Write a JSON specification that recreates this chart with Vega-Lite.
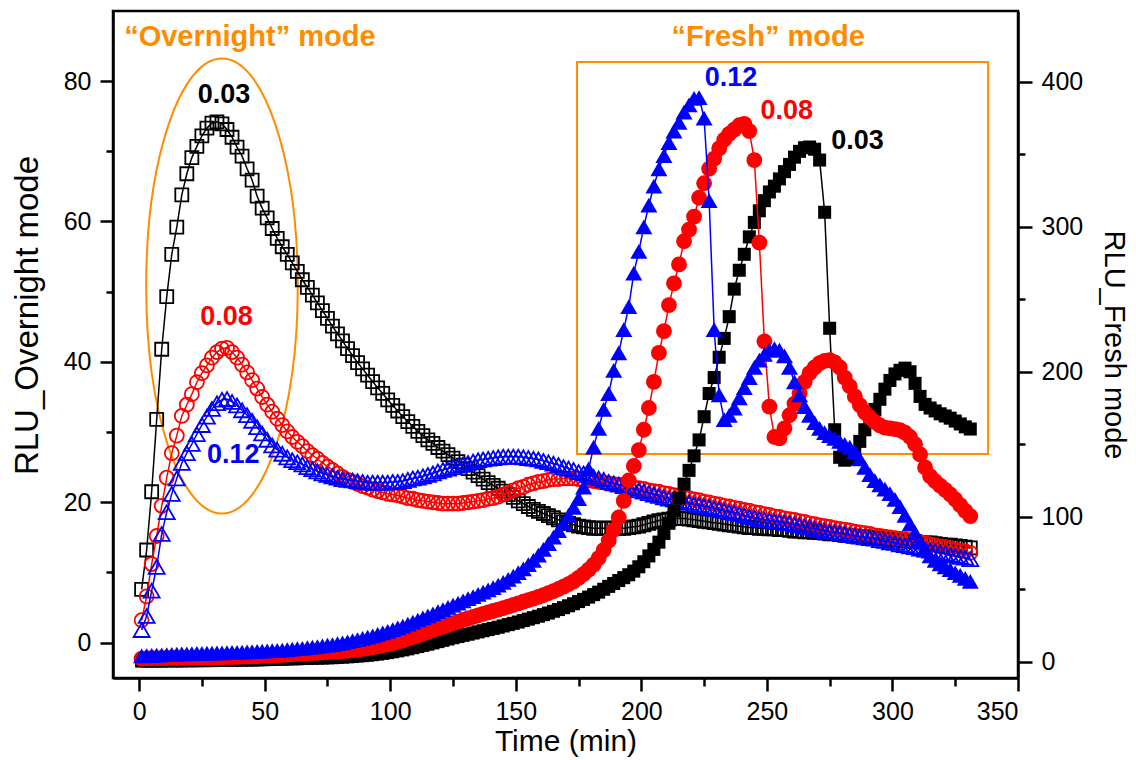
{
"$schema":"https://vega.github.io/schema/vega-lite/v6.json",
"width":905,"height":667,
"autosize":{"type":"none"},
"padding":{"left":113,"top":11,"right":118,"bottom":82},
"background":"white",
"config":{"view":{"stroke":"black","strokeWidth":2.5},"font":"Liberation Sans",
 "axis":{"grid":false,"domainColor":"black","domainWidth":2.5,"tickColor":"black","tickWidth":2.5,"labelColor":"black","titleColor":"black","labelFont":"Liberation Sans","titleFont":"Liberation Sans","labelFontSize":25,"titleFontSize":31,"titleFontWeight":"normal","labelPadding":9}},
"datasets":{
"o1":[{"t":1,"y":7.6},{"t":3,"y":13.2},{"t":5,"y":21.5},{"t":7,"y":31.8},{"t":9,"y":41.8},{"t":11,"y":49.3},{"t":13,"y":55.3},{"t":15,"y":59.2},{"t":17,"y":63.8},{"t":19,"y":66.8},{"t":21,"y":69.1},{"t":23,"y":70.7},{"t":25,"y":72.2},{"t":27,"y":73.3},{"t":29,"y":74.0},{"t":31,"y":74.2},{"t":33,"y":73.9},{"t":35,"y":73.1},{"t":37,"y":72.0},{"t":39,"y":70.6},{"t":41,"y":69.3},{"t":43,"y":67.5},{"t":45,"y":65.9},{"t":47,"y":63.6},{"t":49,"y":61.9},{"t":51,"y":60.5},{"t":53,"y":59.0},{"t":55,"y":57.6},{"t":57,"y":56.4},{"t":59,"y":55.3},{"t":61,"y":54.1},{"t":63,"y":52.9},{"t":65,"y":51.7},{"t":67,"y":50.6},{"t":69,"y":49.5},{"t":71,"y":48.4},{"t":73,"y":47.3},{"t":75,"y":46.2},{"t":77,"y":45.1},{"t":79,"y":44.0},{"t":81,"y":43.0},{"t":83,"y":41.9},{"t":85,"y":40.9},{"t":87,"y":39.9},{"t":89,"y":39.0},{"t":91,"y":38.1},{"t":93,"y":37.2},{"t":95,"y":36.3},{"t":97,"y":35.5},{"t":99,"y":34.6},{"t":101,"y":33.8},{"t":103,"y":33.0},{"t":105,"y":32.2},{"t":107,"y":31.5},{"t":109,"y":30.8},{"t":111,"y":30.1},{"t":113,"y":29.5},{"t":115,"y":28.9},{"t":117,"y":28.4},{"t":119,"y":27.8},{"t":121,"y":27.3},{"t":123,"y":26.8},{"t":125,"y":26.3},{"t":127,"y":25.8},{"t":129,"y":25.3},{"t":131,"y":24.8},{"t":133,"y":24.3},{"t":135,"y":23.8},{"t":137,"y":23.3},{"t":139,"y":22.8},{"t":141,"y":22.4},{"t":143,"y":22.0},{"t":145,"y":21.6},{"t":147,"y":21.1},{"t":149,"y":20.7},{"t":151,"y":20.2},{"t":153,"y":19.8},{"t":155,"y":19.4},{"t":157,"y":19.0},{"t":159,"y":18.7},{"t":161,"y":18.4},{"t":163,"y":18.1},{"t":165,"y":17.8},{"t":167,"y":17.5},{"t":169,"y":17.2},{"t":171,"y":17.0},{"t":173,"y":16.8},{"t":175,"y":16.6},{"t":177,"y":16.5},{"t":179,"y":16.4},{"t":181,"y":16.3},{"t":183,"y":16.3},{"t":185,"y":16.3},{"t":187,"y":16.3},{"t":189,"y":16.3},{"t":191,"y":16.3},{"t":193,"y":16.3},{"t":195,"y":16.4},{"t":197,"y":16.5},{"t":199,"y":16.6},{"t":201,"y":16.8},{"t":203,"y":17.0},{"t":205,"y":17.2},{"t":207,"y":17.4},{"t":209,"y":17.5},{"t":211,"y":17.6},{"t":213,"y":17.7},{"t":215,"y":17.7},{"t":217,"y":17.7},{"t":219,"y":17.6},{"t":221,"y":17.5},{"t":223,"y":17.4},{"t":225,"y":17.3},{"t":227,"y":17.2},{"t":229,"y":17.1},{"t":231,"y":17.0},{"t":233,"y":16.9},{"t":235,"y":16.8},{"t":237,"y":16.7},{"t":239,"y":16.6},{"t":241,"y":16.5},{"t":243,"y":16.4},{"t":245,"y":16.4},{"t":247,"y":16.3},{"t":249,"y":16.3},{"t":251,"y":16.2},{"t":253,"y":16.2},{"t":255,"y":16.1},{"t":257,"y":16.1},{"t":259,"y":16.0},{"t":261,"y":15.9},{"t":263,"y":15.9},{"t":265,"y":15.8},{"t":267,"y":15.8},{"t":269,"y":15.7},{"t":271,"y":15.7},{"t":273,"y":15.6},{"t":275,"y":15.5},{"t":277,"y":15.5},{"t":279,"y":15.4},{"t":281,"y":15.3},{"t":283,"y":15.3},{"t":285,"y":15.2},{"t":287,"y":15.1},{"t":289,"y":15.1},{"t":291,"y":15.0},{"t":293,"y":14.9},{"t":295,"y":14.9},{"t":297,"y":14.8},{"t":299,"y":14.7},{"t":301,"y":14.7},{"t":303,"y":14.6},{"t":305,"y":14.5},{"t":307,"y":14.5},{"t":309,"y":14.4},{"t":311,"y":14.3},{"t":313,"y":14.2},{"t":315,"y":14.2},{"t":317,"y":14.1},{"t":319,"y":14.0},{"t":321,"y":13.9},{"t":323,"y":13.9},{"t":325,"y":13.8},{"t":327,"y":13.7},{"t":329,"y":13.6},{"t":331,"y":13.5}],
"o2":[{"t":1,"y":3.2},{"t":3,"y":6.6},{"t":5,"y":11.2},{"t":7,"y":15.2},{"t":9,"y":19.5},{"t":11,"y":23.5},{"t":13,"y":27.0},{"t":15,"y":29.5},{"t":17,"y":32.3},{"t":19,"y":33.9},{"t":21,"y":35.4},{"t":23,"y":37.1},{"t":25,"y":38.4},{"t":27,"y":39.5},{"t":29,"y":40.6},{"t":31,"y":41.4},{"t":33,"y":41.9},{"t":35,"y":42.0},{"t":37,"y":41.4},{"t":39,"y":40.6},{"t":41,"y":39.6},{"t":43,"y":38.5},{"t":45,"y":37.4},{"t":47,"y":36.2},{"t":49,"y":35.0},{"t":51,"y":33.9},{"t":53,"y":32.9},{"t":55,"y":31.9},{"t":57,"y":31.0},{"t":59,"y":30.1},{"t":61,"y":29.3},{"t":63,"y":28.6},{"t":65,"y":28.0},{"t":67,"y":27.3},{"t":69,"y":26.7},{"t":71,"y":26.2},{"t":73,"y":25.6},{"t":75,"y":25.1},{"t":77,"y":24.6},{"t":79,"y":24.1},{"t":81,"y":23.6},{"t":83,"y":23.2},{"t":85,"y":22.9},{"t":87,"y":22.6},{"t":89,"y":22.3},{"t":91,"y":22.1},{"t":93,"y":21.8},{"t":95,"y":21.6},{"t":97,"y":21.4},{"t":99,"y":21.2},{"t":101,"y":21.1},{"t":103,"y":21.0},{"t":105,"y":20.8},{"t":107,"y":20.6},{"t":109,"y":20.5},{"t":111,"y":20.3},{"t":113,"y":20.2},{"t":115,"y":20.1},{"t":117,"y":20.0},{"t":119,"y":19.9},{"t":121,"y":19.8},{"t":123,"y":19.8},{"t":125,"y":19.8},{"t":127,"y":19.8},{"t":129,"y":19.9},{"t":131,"y":20.0},{"t":133,"y":20.1},{"t":135,"y":20.2},{"t":137,"y":20.3},{"t":139,"y":20.5},{"t":141,"y":20.6},{"t":143,"y":20.8},{"t":145,"y":21.1},{"t":147,"y":21.4},{"t":149,"y":21.7},{"t":151,"y":22.0},{"t":153,"y":22.2},{"t":155,"y":22.5},{"t":157,"y":22.7},{"t":159,"y":22.9},{"t":161,"y":23.0},{"t":163,"y":23.2},{"t":165,"y":23.3},{"t":167,"y":23.3},{"t":169,"y":23.4},{"t":171,"y":23.4},{"t":173,"y":23.4},{"t":175,"y":23.3},{"t":177,"y":23.2},{"t":179,"y":23.1},{"t":181,"y":23.0},{"t":183,"y":22.9},{"t":185,"y":22.8},{"t":187,"y":22.7},{"t":189,"y":22.6},{"t":191,"y":22.5},{"t":193,"y":22.4},{"t":195,"y":22.3},{"t":197,"y":22.1},{"t":199,"y":22.0},{"t":201,"y":21.9},{"t":203,"y":21.7},{"t":205,"y":21.6},{"t":207,"y":21.5},{"t":209,"y":21.3},{"t":211,"y":21.2},{"t":213,"y":21.0},{"t":215,"y":20.9},{"t":217,"y":20.7},{"t":219,"y":20.6},{"t":221,"y":20.4},{"t":223,"y":20.3},{"t":225,"y":20.1},{"t":227,"y":20.0},{"t":229,"y":19.8},{"t":231,"y":19.7},{"t":233,"y":19.5},{"t":235,"y":19.4},{"t":237,"y":19.2},{"t":239,"y":19.1},{"t":241,"y":18.9},{"t":243,"y":18.8},{"t":245,"y":18.6},{"t":247,"y":18.5},{"t":249,"y":18.3},{"t":251,"y":18.2},{"t":253,"y":18.0},{"t":255,"y":17.9},{"t":257,"y":17.7},{"t":259,"y":17.6},{"t":261,"y":17.5},{"t":263,"y":17.3},{"t":265,"y":17.2},{"t":267,"y":17.0},{"t":269,"y":16.9},{"t":271,"y":16.7},{"t":273,"y":16.6},{"t":275,"y":16.5},{"t":277,"y":16.3},{"t":279,"y":16.2},{"t":281,"y":16.1},{"t":283,"y":16.0},{"t":285,"y":15.8},{"t":287,"y":15.7},{"t":289,"y":15.6},{"t":291,"y":15.5},{"t":293,"y":15.3},{"t":295,"y":15.2},{"t":297,"y":15.1},{"t":299,"y":15.0},{"t":301,"y":14.9},{"t":303,"y":14.8},{"t":305,"y":14.7},{"t":307,"y":14.6},{"t":309,"y":14.4},{"t":311,"y":14.3},{"t":313,"y":14.2},{"t":315,"y":14.0},{"t":317,"y":13.9},{"t":319,"y":13.7},{"t":321,"y":13.6},{"t":323,"y":13.4},{"t":325,"y":13.3},{"t":327,"y":13.1},{"t":329,"y":13.0},{"t":331,"y":12.8}],
"o3":[{"t":1,"y":1.8},{"t":3,"y":3.8},{"t":5,"y":7.4},{"t":7,"y":10.8},{"t":9,"y":15.5},{"t":11,"y":18.6},{"t":13,"y":21.2},{"t":15,"y":23.4},{"t":17,"y":25.6},{"t":19,"y":27.0},{"t":21,"y":28.3},{"t":23,"y":29.7},{"t":25,"y":31.0},{"t":27,"y":32.2},{"t":29,"y":33.3},{"t":31,"y":34.1},{"t":33,"y":34.6},{"t":35,"y":34.7},{"t":37,"y":34.3},{"t":39,"y":33.8},{"t":41,"y":33.1},{"t":43,"y":32.4},{"t":45,"y":31.6},{"t":47,"y":30.7},{"t":49,"y":29.8},{"t":51,"y":28.9},{"t":53,"y":28.1},{"t":55,"y":27.5},{"t":57,"y":26.9},{"t":59,"y":26.4},{"t":61,"y":26.0},{"t":63,"y":25.7},{"t":65,"y":25.4},{"t":67,"y":25.0},{"t":69,"y":24.7},{"t":71,"y":24.4},{"t":73,"y":24.1},{"t":75,"y":23.9},{"t":77,"y":23.7},{"t":79,"y":23.5},{"t":81,"y":23.3},{"t":83,"y":23.2},{"t":85,"y":23.1},{"t":87,"y":23.0},{"t":89,"y":22.9},{"t":91,"y":22.8},{"t":93,"y":22.8},{"t":95,"y":22.8},{"t":97,"y":22.8},{"t":99,"y":22.8},{"t":101,"y":22.9},{"t":103,"y":22.9},{"t":105,"y":23.0},{"t":107,"y":23.2},{"t":109,"y":23.4},{"t":111,"y":23.5},{"t":113,"y":23.7},{"t":115,"y":23.9},{"t":117,"y":24.1},{"t":119,"y":24.4},{"t":121,"y":24.6},{"t":123,"y":24.8},{"t":125,"y":25.0},{"t":127,"y":25.2},{"t":129,"y":25.4},{"t":131,"y":25.6},{"t":133,"y":25.8},{"t":135,"y":26.0},{"t":137,"y":26.1},{"t":139,"y":26.2},{"t":141,"y":26.3},{"t":143,"y":26.4},{"t":145,"y":26.5},{"t":147,"y":26.5},{"t":149,"y":26.5},{"t":151,"y":26.5},{"t":153,"y":26.4},{"t":155,"y":26.3},{"t":157,"y":26.2},{"t":159,"y":26.1},{"t":161,"y":25.9},{"t":163,"y":25.7},{"t":165,"y":25.5},{"t":167,"y":25.3},{"t":169,"y":25.0},{"t":171,"y":24.8},{"t":173,"y":24.6},{"t":175,"y":24.3},{"t":177,"y":24.1},{"t":179,"y":23.9},{"t":181,"y":23.6},{"t":183,"y":23.4},{"t":185,"y":23.2},{"t":187,"y":22.9},{"t":189,"y":22.7},{"t":191,"y":22.5},{"t":193,"y":22.3},{"t":195,"y":22.1},{"t":197,"y":21.9},{"t":199,"y":21.7},{"t":201,"y":21.5},{"t":203,"y":21.3},{"t":205,"y":21.1},{"t":207,"y":20.9},{"t":209,"y":20.7},{"t":211,"y":20.5},{"t":213,"y":20.4},{"t":215,"y":20.2},{"t":217,"y":20.0},{"t":219,"y":19.9},{"t":221,"y":19.7},{"t":223,"y":19.6},{"t":225,"y":19.4},{"t":227,"y":19.3},{"t":229,"y":19.1},{"t":231,"y":19.0},{"t":233,"y":18.8},{"t":235,"y":18.6},{"t":237,"y":18.5},{"t":239,"y":18.3},{"t":241,"y":18.1},{"t":243,"y":17.9},{"t":245,"y":17.8},{"t":247,"y":17.6},{"t":249,"y":17.5},{"t":251,"y":17.4},{"t":253,"y":17.3},{"t":255,"y":17.2},{"t":257,"y":17.1},{"t":259,"y":17.0},{"t":261,"y":16.8},{"t":263,"y":16.7},{"t":265,"y":16.5},{"t":267,"y":16.4},{"t":269,"y":16.2},{"t":271,"y":16.1},{"t":273,"y":15.9},{"t":275,"y":15.8},{"t":277,"y":15.7},{"t":279,"y":15.6},{"t":281,"y":15.5},{"t":283,"y":15.3},{"t":285,"y":15.2},{"t":287,"y":15.1},{"t":289,"y":15.0},{"t":291,"y":14.9},{"t":293,"y":14.8},{"t":295,"y":14.6},{"t":297,"y":14.5},{"t":299,"y":14.3},{"t":301,"y":14.2},{"t":303,"y":14.0},{"t":305,"y":13.9},{"t":307,"y":13.7},{"t":309,"y":13.6},{"t":311,"y":13.4},{"t":313,"y":13.3},{"t":315,"y":13.1},{"t":317,"y":13.0},{"t":319,"y":12.8},{"t":321,"y":12.7},{"t":323,"y":12.5},{"t":325,"y":12.4},{"t":327,"y":12.2},{"t":329,"y":12.1},{"t":331,"y":11.9}],
"f1":[{"t":1,"y":0.5},{"t":3,"y":0.5},{"t":5,"y":0.5},{"t":7,"y":0.5},{"t":9,"y":0.5},{"t":11,"y":0.6},{"t":13,"y":0.6},{"t":15,"y":0.6},{"t":17,"y":0.6},{"t":19,"y":0.7},{"t":21,"y":0.7},{"t":23,"y":0.7},{"t":25,"y":0.8},{"t":27,"y":0.8},{"t":29,"y":0.8},{"t":31,"y":0.9},{"t":33,"y":0.9},{"t":35,"y":1.0},{"t":37,"y":1.0},{"t":39,"y":1.1},{"t":41,"y":1.1},{"t":43,"y":1.2},{"t":45,"y":1.2},{"t":47,"y":1.3},{"t":49,"y":1.4},{"t":51,"y":1.5},{"t":53,"y":1.6},{"t":55,"y":1.7},{"t":57,"y":1.8},{"t":59,"y":1.9},{"t":61,"y":2.0},{"t":63,"y":2.1},{"t":65,"y":2.2},{"t":67,"y":2.3},{"t":69,"y":2.4},{"t":71,"y":2.5},{"t":73,"y":2.6},{"t":75,"y":2.7},{"t":77,"y":2.8},{"t":79,"y":3.0},{"t":81,"y":3.2},{"t":83,"y":3.4},{"t":85,"y":3.6},{"t":87,"y":3.9},{"t":89,"y":4.2},{"t":91,"y":4.5},{"t":93,"y":4.9},{"t":95,"y":5.3},{"t":97,"y":5.8},{"t":99,"y":6.3},{"t":101,"y":6.9},{"t":103,"y":7.5},{"t":105,"y":8.2},{"t":107,"y":8.9},{"t":109,"y":9.7},{"t":111,"y":10.5},{"t":113,"y":11.3},{"t":115,"y":12.1},{"t":117,"y":13.0},{"t":119,"y":13.9},{"t":121,"y":14.8},{"t":123,"y":15.7},{"t":125,"y":16.6},{"t":127,"y":17.4},{"t":129,"y":18.2},{"t":131,"y":19.0},{"t":133,"y":19.8},{"t":135,"y":20.6},{"t":137,"y":21.4},{"t":139,"y":22.2},{"t":141,"y":23.0},{"t":143,"y":23.8},{"t":145,"y":24.7},{"t":147,"y":25.6},{"t":149,"y":26.5},{"t":151,"y":27.4},{"t":153,"y":28.4},{"t":155,"y":29.4},{"t":157,"y":30.4},{"t":159,"y":31.4},{"t":161,"y":32.5},{"t":163,"y":33.6},{"t":165,"y":34.8},{"t":167,"y":36.0},{"t":169,"y":37.3},{"t":171,"y":38.6},{"t":173,"y":40.0},{"t":175,"y":41.5},{"t":177,"y":43.0},{"t":179,"y":44.6},{"t":181,"y":46.3},{"t":183,"y":48.0},{"t":185,"y":50.0},{"t":187,"y":52.0},{"t":189,"y":54.0},{"t":191,"y":56.0},{"t":193,"y":58.0},{"t":195,"y":60.0},{"t":197,"y":62.5},{"t":199,"y":65.5},{"t":201,"y":69.0},{"t":203,"y":73.0},{"t":205,"y":77.5},{"t":207,"y":82.5},{"t":209,"y":88.5},{"t":211,"y":95.5},{"t":213,"y":104.0},{"t":215,"y":113.0},{"t":217,"y":122.5},{"t":219,"y":132.0},{"t":221,"y":142.0},{"t":223,"y":153.0},{"t":225,"y":169.0},{"t":227,"y":185.0},{"t":229,"y":196.0},{"t":231,"y":210.0},{"t":233,"y":223.0},{"t":235,"y":238.0},{"t":237,"y":257.0},{"t":239,"y":270.0},{"t":241,"y":281.0},{"t":243,"y":293.0},{"t":245,"y":303.0},{"t":247,"y":311.0},{"t":249,"y":318.0},{"t":251,"y":324.0},{"t":253,"y":328.0},{"t":255,"y":333.0},{"t":257,"y":338.0},{"t":259,"y":343.0},{"t":261,"y":348.0},{"t":263,"y":352.0},{"t":265,"y":354.5},{"t":267,"y":355.0},{"t":269,"y":353.5},{"t":271,"y":346.0},{"t":273,"y":310.0},{"t":275,"y":230.0},{"t":277,"y":160.0},{"t":279,"y":141.0},{"t":281,"y":139.0},{"t":283,"y":140.0},{"t":285,"y":144.0},{"t":287,"y":152.0},{"t":289,"y":160.0},{"t":291,"y":167.0},{"t":293,"y":174.0},{"t":295,"y":181.0},{"t":297,"y":188.0},{"t":299,"y":194.0},{"t":301,"y":198.5},{"t":303,"y":201.0},{"t":305,"y":202.5},{"t":307,"y":200.0},{"t":309,"y":192.0},{"t":311,"y":183.0},{"t":313,"y":177.5},{"t":315,"y":175.0},{"t":317,"y":173.0},{"t":319,"y":171.0},{"t":321,"y":169.5},{"t":323,"y":168.0},{"t":325,"y":166.0},{"t":327,"y":164.0},{"t":329,"y":162.0},{"t":331,"y":160.5}],
"f2":[{"t":1,"y":2.2},{"t":3,"y":2.3},{"t":5,"y":2.4},{"t":7,"y":2.4},{"t":9,"y":2.5},{"t":11,"y":2.5},{"t":13,"y":2.6},{"t":15,"y":2.6},{"t":17,"y":2.7},{"t":19,"y":2.7},{"t":21,"y":2.8},{"t":23,"y":2.8},{"t":25,"y":2.9},{"t":27,"y":2.9},{"t":29,"y":3.0},{"t":31,"y":3.0},{"t":33,"y":3.1},{"t":35,"y":3.2},{"t":37,"y":3.3},{"t":39,"y":3.4},{"t":41,"y":3.5},{"t":43,"y":3.6},{"t":45,"y":3.7},{"t":47,"y":3.8},{"t":49,"y":4.0},{"t":51,"y":4.2},{"t":53,"y":4.4},{"t":55,"y":4.6},{"t":57,"y":4.8},{"t":59,"y":5.0},{"t":61,"y":5.2},{"t":63,"y":5.4},{"t":65,"y":5.6},{"t":67,"y":5.8},{"t":69,"y":6.0},{"t":71,"y":6.2},{"t":73,"y":6.4},{"t":75,"y":6.6},{"t":77,"y":6.8},{"t":79,"y":7.0},{"t":81,"y":7.3},{"t":83,"y":7.6},{"t":85,"y":8.0},{"t":87,"y":8.4},{"t":89,"y":8.9},{"t":91,"y":9.4},{"t":93,"y":10.0},{"t":95,"y":10.6},{"t":97,"y":11.3},{"t":99,"y":12.1},{"t":101,"y":12.9},{"t":103,"y":13.8},{"t":105,"y":14.8},{"t":107,"y":15.9},{"t":109,"y":17.0},{"t":111,"y":18.2},{"t":113,"y":19.4},{"t":115,"y":20.6},{"t":117,"y":21.8},{"t":119,"y":23.0},{"t":121,"y":24.2},{"t":123,"y":25.4},{"t":125,"y":26.6},{"t":127,"y":27.7},{"t":129,"y":28.8},{"t":131,"y":29.9},{"t":133,"y":31.0},{"t":135,"y":32.0},{"t":137,"y":33.0},{"t":139,"y":34.0},{"t":141,"y":35.0},{"t":143,"y":36.0},{"t":145,"y":37.0},{"t":147,"y":38.0},{"t":149,"y":39.2},{"t":151,"y":40.3},{"t":153,"y":41.4},{"t":155,"y":42.5},{"t":157,"y":43.6},{"t":159,"y":44.8},{"t":161,"y":46.0},{"t":163,"y":47.3},{"t":165,"y":48.7},{"t":167,"y":50.2},{"t":169,"y":51.8},{"t":171,"y":53.5},{"t":173,"y":55.5},{"t":175,"y":57.8},{"t":177,"y":60.5},{"t":179,"y":63.5},{"t":181,"y":67.0},{"t":183,"y":71.5},{"t":185,"y":77.0},{"t":187,"y":83.5},{"t":189,"y":91.0},{"t":191,"y":99.5},{"t":193,"y":111.0},{"t":195,"y":125.0},{"t":197,"y":135.0},{"t":199,"y":146.0},{"t":201,"y":160.0},{"t":203,"y":175.0},{"t":205,"y":193.0},{"t":207,"y":213.0},{"t":209,"y":228.0},{"t":211,"y":246.0},{"t":213,"y":261.0},{"t":215,"y":274.0},{"t":217,"y":290.0},{"t":219,"y":298.0},{"t":221,"y":307.0},{"t":223,"y":320.0},{"t":225,"y":330.0},{"t":227,"y":340.0},{"t":229,"y":347.0},{"t":231,"y":354.0},{"t":233,"y":360.0},{"t":235,"y":364.0},{"t":237,"y":367.0},{"t":239,"y":370.0},{"t":241,"y":371.0},{"t":243,"y":366.0},{"t":245,"y":346.0},{"t":247,"y":289.0},{"t":249,"y":221.0},{"t":251,"y":176.0},{"t":253,"y":155.0},{"t":255,"y":154.0},{"t":257,"y":161.0},{"t":259,"y":170.0},{"t":261,"y":178.0},{"t":263,"y":185.0},{"t":265,"y":193.0},{"t":267,"y":199.0},{"t":269,"y":203.0},{"t":271,"y":206.0},{"t":273,"y":207.5},{"t":275,"y":208.0},{"t":277,"y":206.5},{"t":279,"y":203.0},{"t":281,"y":196.0},{"t":283,"y":190.0},{"t":285,"y":183.0},{"t":287,"y":177.0},{"t":289,"y":172.0},{"t":291,"y":168.5},{"t":293,"y":165.5},{"t":295,"y":163.0},{"t":297,"y":161.5},{"t":299,"y":161.0},{"t":301,"y":160.5},{"t":303,"y":159.8},{"t":305,"y":158.0},{"t":307,"y":155.0},{"t":309,"y":150.0},{"t":311,"y":143.0},{"t":313,"y":134.0},{"t":315,"y":128.0},{"t":317,"y":124.5},{"t":319,"y":121.5},{"t":321,"y":118.5},{"t":323,"y":115.5},{"t":325,"y":112.0},{"t":327,"y":108.0},{"t":329,"y":104.0},{"t":331,"y":100.5}],
"f3":[{"t":1,"y":4.0},{"t":3,"y":4.2},{"t":5,"y":4.4},{"t":7,"y":4.6},{"t":9,"y":4.8},{"t":11,"y":5.0},{"t":13,"y":5.1},{"t":15,"y":5.3},{"t":17,"y":5.4},{"t":19,"y":5.5},{"t":21,"y":5.6},{"t":23,"y":5.7},{"t":25,"y":5.8},{"t":27,"y":5.9},{"t":29,"y":6.0},{"t":31,"y":6.1},{"t":33,"y":6.2},{"t":35,"y":6.3},{"t":37,"y":6.4},{"t":39,"y":6.5},{"t":41,"y":6.6},{"t":43,"y":6.8},{"t":45,"y":7.0},{"t":47,"y":7.1},{"t":49,"y":7.3},{"t":51,"y":7.5},{"t":53,"y":7.7},{"t":55,"y":7.9},{"t":57,"y":8.1},{"t":59,"y":8.4},{"t":61,"y":8.7},{"t":63,"y":9.0},{"t":65,"y":9.3},{"t":67,"y":9.7},{"t":69,"y":10.1},{"t":71,"y":10.5},{"t":73,"y":10.9},{"t":75,"y":11.4},{"t":77,"y":11.9},{"t":79,"y":12.5},{"t":81,"y":13.1},{"t":83,"y":13.8},{"t":85,"y":14.5},{"t":87,"y":15.3},{"t":89,"y":16.1},{"t":91,"y":17.0},{"t":93,"y":17.9},{"t":95,"y":18.9},{"t":97,"y":19.9},{"t":99,"y":21.0},{"t":101,"y":22.1},{"t":103,"y":23.3},{"t":105,"y":24.6},{"t":107,"y":26.0},{"t":109,"y":27.4},{"t":111,"y":28.8},{"t":113,"y":30.2},{"t":115,"y":31.6},{"t":117,"y":33.0},{"t":119,"y":34.5},{"t":121,"y":36.0},{"t":123,"y":37.5},{"t":125,"y":39.0},{"t":127,"y":40.5},{"t":129,"y":42.0},{"t":131,"y":43.5},{"t":133,"y":45.0},{"t":135,"y":46.5},{"t":137,"y":48.0},{"t":139,"y":49.6},{"t":141,"y":51.2},{"t":143,"y":52.9},{"t":145,"y":54.8},{"t":147,"y":56.8},{"t":149,"y":59.0},{"t":151,"y":61.5},{"t":153,"y":64.0},{"t":155,"y":67.0},{"t":157,"y":70.0},{"t":159,"y":73.5},{"t":161,"y":77.5},{"t":163,"y":81.5},{"t":165,"y":86.0},{"t":167,"y":90.5},{"t":169,"y":95.5},{"t":171,"y":101.0},{"t":173,"y":106.5},{"t":175,"y":112.5},{"t":177,"y":120.5},{"t":179,"y":133.0},{"t":181,"y":148.0},{"t":183,"y":161.0},{"t":185,"y":174.0},{"t":187,"y":185.0},{"t":189,"y":201.0},{"t":191,"y":213.0},{"t":193,"y":229.0},{"t":195,"y":245.0},{"t":197,"y":268.0},{"t":199,"y":283.0},{"t":201,"y":300.0},{"t":203,"y":315.0},{"t":205,"y":328.0},{"t":207,"y":340.0},{"t":209,"y":349.0},{"t":211,"y":358.0},{"t":213,"y":366.0},{"t":215,"y":372.0},{"t":217,"y":379.0},{"t":219,"y":384.0},{"t":221,"y":388.5},{"t":223,"y":389.0},{"t":225,"y":375.0},{"t":227,"y":318.0},{"t":229,"y":229.0},{"t":231,"y":184.0},{"t":233,"y":167.0},{"t":235,"y":170.0},{"t":237,"y":175.0},{"t":239,"y":182.0},{"t":241,"y":189.0},{"t":243,"y":196.0},{"t":245,"y":203.0},{"t":247,"y":208.0},{"t":249,"y":212.0},{"t":251,"y":215.0},{"t":253,"y":216.0},{"t":255,"y":215.0},{"t":257,"y":211.0},{"t":259,"y":203.0},{"t":261,"y":193.0},{"t":263,"y":184.0},{"t":265,"y":176.0},{"t":267,"y":170.0},{"t":269,"y":165.0},{"t":271,"y":161.0},{"t":273,"y":158.0},{"t":275,"y":156.0},{"t":277,"y":154.0},{"t":279,"y":152.0},{"t":281,"y":150.0},{"t":283,"y":148.0},{"t":285,"y":145.0},{"t":287,"y":140.0},{"t":289,"y":134.0},{"t":291,"y":129.0},{"t":293,"y":125.0},{"t":295,"y":122.0},{"t":297,"y":119.0},{"t":299,"y":116.0},{"t":301,"y":112.0},{"t":303,"y":107.0},{"t":305,"y":101.0},{"t":307,"y":95.0},{"t":309,"y":89.0},{"t":311,"y":83.0},{"t":313,"y":77.0},{"t":315,"y":73.0},{"t":317,"y":70.0},{"t":319,"y":67.5},{"t":321,"y":65.5},{"t":323,"y":63.5},{"t":325,"y":61.5},{"t":327,"y":59.5},{"t":329,"y":57.5},{"t":331,"y":55.5}]
},
"encoding":{"x":{"field":"t","type":"quantitative","scale":{"domain":[-10.4,350],"nice":false,"zero":false},
 "axis":{"title":"Time (min)","titleFontSize":30,"values":[0,25,50,75,100,125,150,175,200,225,250,275,300,325,350],"labelExpr":"datum.value % 50 === 0 ? datum.label : ''","tickSize":{"condition":{"test":"datum.value % 50 === 0","value":13},"value":8},"labelPadding":8,"titlePadding":2}}},
"layer":[
 {"encoding":{"y":{"field":"y","type":"quantitative","scale":{"domain":[-5.03,89.98],"nice":false,"zero":false},
   "axis":{"title":"RLU_Overnight mode","titleFontSize":33,"titleY":304,"orient":"left","values":[0,10,20,30,40,50,60,70,80],"labelExpr":"datum.value % 20 === 0 ? datum.label : ''","tickSize":{"condition":{"test":"datum.value % 20 === 0","value":13},"value":7},"titlePadding":19}}},
  "layer":[
   {"data":{"values":[{"t":33.0,"y":50.8}]},"mark":{"type":"point","shape":"M0,-1C0.184,-1,0.3332,-0.5523,0.3332,0C0.3332,0.5523,0.184,1,0,1C-0.184,1,-0.3332,0.5523,-0.3332,0C-0.3332,-0.5523,-0.184,-1,0,-1Z","size":207025,"filled":false,"stroke":"#FF8C00","strokeWidth":2,"opacity":1}},
   {"data":{"name":"o1"},"layer":[{"mark":{"type":"line","color":"black","strokeWidth":1.5}},{"mark":{"type":"point","shape":"square","size":169,"filled":false,"stroke":"black","strokeWidth":1.8,"opacity":1}}]},
   {"data":{"name":"o2"},"layer":[{"mark":{"type":"line","color":"#FF0000","strokeWidth":1.5}},{"mark":{"type":"point","shape":"circle","size":196,"filled":false,"stroke":"#FF0000","strokeWidth":1.8,"opacity":1}}]},
   {"data":{"name":"o3"},"layer":[{"mark":{"type":"line","color":"#0000FF","strokeWidth":1.5}},{"mark":{"type":"point","shape":"triangle-up","size":256,"filled":false,"stroke":"#0000FF","strokeWidth":1.8,"opacity":1}}]},
   {"data":{"values":[{"t":44.1,"y":86.3,"label":"“Overnight” mode"},{"t":250.5,"y":86.3,"label":"“Fresh” mode"}]},"mark":{"type":"text","font":"Liberation Sans","fontSize":29,"fontWeight":"bold","color":"#FF8C00","align":"center","baseline":"middle"},"encoding":{"text":{"field":"label"}}},
   {"data":{"values":[{"t":33.8,"y":78.0,"label":"0.03"}]},"mark":{"type":"text","font":"Liberation Sans","fontSize":27,"fontWeight":"bold","color":"black","align":"center","baseline":"middle"},"encoding":{"text":{"field":"label"}}},
   {"data":{"values":[{"t":34.8,"y":46.4,"label":"0.08"}]},"mark":{"type":"text","font":"Liberation Sans","fontSize":27,"fontWeight":"bold","color":"#FF0000","align":"center","baseline":"middle"},"encoding":{"text":{"field":"label"}}},
   {"data":{"values":[{"t":37.5,"y":26.7,"label":"0.12"}]},"mark":{"type":"text","font":"Liberation Sans","fontSize":27,"fontWeight":"bold","color":"#0000FF","align":"center","baseline":"middle"},"encoding":{"text":{"field":"label"}}}
  ]},
 {"encoding":{"y":{"field":"y","type":"quantitative","scale":{"domain":[-11.2,448.8],"nice":false,"zero":false},
   "axis":{"title":"RLU_Fresh mode","titleFontSize":29,"orient":"right","values":[0,50,100,150,200,250,300,350,400],"labelExpr":"datum.value % 100 === 0 ? datum.label : ''","tickSize":{"condition":{"test":"datum.value % 100 === 0","value":14},"value":7},"titlePadding":16}}},
  "layer":[
   {"data":{"values":[{"t":174.4,"t2":338.1,"y":413.6,"y2":143.2}]},"mark":{"type":"rect","fill":null,"stroke":"#FF8C00","strokeWidth":2},"encoding":{"x2":{"field":"t2"},"y2":{"field":"y2"}}},
   {"data":{"name":"f1"},"layer":[{"mark":{"type":"line","color":"black","strokeWidth":1.5}},{"mark":{"type":"point","shape":"square","size":170,"filled":true,"color":"black","opacity":1}}]},
   {"data":{"name":"f2"},"layer":[{"mark":{"type":"line","color":"#FF0000","strokeWidth":1.5}},{"mark":{"type":"point","shape":"circle","size":250,"filled":true,"color":"#FF0000","opacity":1}}]},
   {"data":{"name":"f3"},"layer":[{"mark":{"type":"line","color":"#0000FF","strokeWidth":1.5}},{"mark":{"type":"point","shape":"triangle-up","size":290,"filled":true,"color":"#0000FF","opacity":1}}]},
   {"data":{"values":[{"t":235.7,"y":402.9,"label":"0.12"}]},"mark":{"type":"text","font":"Liberation Sans","fontSize":27,"fontWeight":"bold","color":"#0000FF","align":"center","baseline":"middle"},"encoding":{"text":{"field":"label"}}},
   {"data":{"values":[{"t":257.9,"y":379.9,"label":"0.08"}]},"mark":{"type":"text","font":"Liberation Sans","fontSize":27,"fontWeight":"bold","color":"#FF0000","align":"center","baseline":"middle"},"encoding":{"text":{"field":"label"}}},
   {"data":{"values":[{"t":286.1,"y":359.2,"label":"0.03"}]},"mark":{"type":"text","font":"Liberation Sans","fontSize":27,"fontWeight":"bold","color":"black","align":"center","baseline":"middle"},"encoding":{"text":{"field":"label"}}}
  ]}
],
"resolve":{"scale":{"y":"independent"},"axis":{"y":"independent"}}
}
